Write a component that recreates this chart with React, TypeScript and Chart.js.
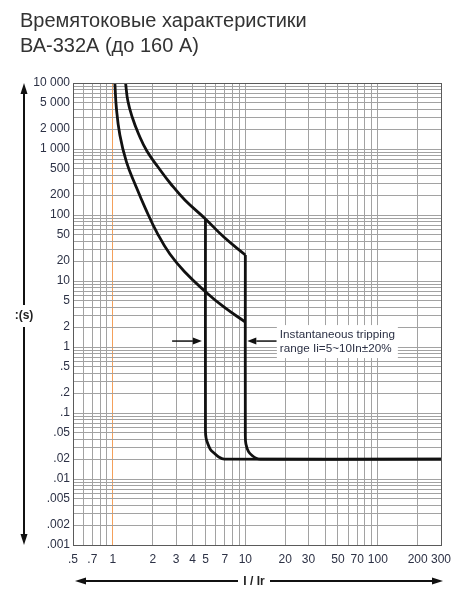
import React, { useEffect, useRef } from "react";
import { Chart, registerables } from "chart.js";

Chart.register(...registerables);

// ---------- data ----------
const xGridValues = [0.5, 0.6, 0.7, 0.8, 0.9, 1, 2, 3, 4, 5, 6, 7, 8, 9, 10, 20, 30, 40, 50, 60, 70, 80, 90, 100, 200, 300];
const xTickValues = [0.5, 0.7, 1, 2, 3, 4, 5, 7, 10, 20, 30, 50, 70, 100, 200, 300];
const xTickLabels = [".5", ".7", "1", "2", "3", "4", "5", "7", "10", "20", "30", "50", "70", "100", "200", "300"];

const yGridValues = [
  0.001, 0.002, 0.003, 0.004, 0.005, 0.006, 0.007, 0.008, 0.009,
  0.01, 0.02, 0.03, 0.04, 0.05, 0.06, 0.07, 0.08, 0.09,
  0.1, 0.2, 0.3, 0.4, 0.5, 0.6, 0.7, 0.8, 0.9,
  1, 2, 3, 4, 5, 6, 7, 8, 9,
  10, 20, 30, 40, 50, 60, 70, 80, 90,
  100, 200, 300, 400, 500, 600, 700, 800, 900,
  1000, 2000, 3000, 4000, 5000, 6000, 7000, 8000, 9000,
  10000,
];
const yTickValues = [10000, 5000, 2000, 1000, 500, 200, 100, 50, 20, 10, 5, 2, 1, 0.5, 0.2, 0.1, 0.05, 0.02, 0.01, 0.005, 0.002, 0.001];
const yTickLabels = ["10 000", "5 000", "2 000", "1 000", "500", "200", "100", "50", "20", "10", "5", "2", "1", ".5", ".2", ".1", ".05", ".02", ".01", ".005", ".002", ".001"];

// lower (fast) thermal curve
const lowerCurveX = [1.035, 1.063, 1.129, 1.264, 1.479, 1.759, 2.167, 2.693, 3.495, 5, 6.88, 10];
const lowerCurveY = [10000, 4181, 1630, 643, 285, 126, 52.8, 25.6, 13.7, 6.89, 4.04, 2.39];

// upper (slow) thermal curve
const upperCurveX = [1.247, 1.298, 1.403, 1.563, 1.806, 2.205, 2.74, 3.495, 5, 6.88, 10];
const upperCurveY = [10000, 5337, 3000, 1687, 933, 525, 295, 169, 87, 46.4, 24.8];

// instantaneous trip at 5 x Ir
const inst5X = [5, 5, 5.05, 5.2, 5.45, 5.83, 6.3, 6.94, 300];
const inst5Y = [87, 0.055, 0.042, 0.0346, 0.028, 0.0245, 0.0215, 0.02, 0.02];

// instantaneous trip at 10 x Ir
const inst10X = [10, 10, 10.1, 10.57, 11.3, 12.2, 13, 300];
const inst10Y = [24.8, 0.045, 0.034, 0.026, 0.0225, 0.0205, 0.02, 0.02];

// annotation
const noteLines = ["Instantaneous tripping", "range Ii=5~10In±20%"];
const arrowLeftX = [2.8, 4.7];
const arrowRightX = [17.2, 10.35];
const arrowY = 1.23;
const noteX = 17.3;

const FONT = '"Liberation Sans", Arial, Helvetica, sans-serif';
const GRID = "#a2a2a2";
const ORANGE = "#f4a05a";
const LABEL = "#2c3145";

function pts(xs: number[], ys: number[]) {
  return xs.map((x, i) => ({ x, y: ys[i] }));
}

function labelFor(values: number[], labels: string[], v: number) {
  const i = values.findIndex((t) => Math.abs(Math.log10(t) - Math.log10(v)) < 1e-6);
  return i >= 0 ? labels[i] : "";
}

function drawArrow(ctx: CanvasRenderingContext2D, x1: number, y1: number, x2: number, y2: number, len: number, half: number, lw: number) {
  const ang = Math.atan2(y2 - y1, x2 - x1);
  const bx = x2 - Math.cos(ang) * len;
  const by = y2 - Math.sin(ang) * len;
  ctx.beginPath();
  ctx.lineWidth = lw;
  ctx.moveTo(x1, y1);
  ctx.lineTo(bx, by);
  ctx.stroke();
  ctx.beginPath();
  ctx.moveTo(x2, y2);
  ctx.lineTo(bx + Math.sin(ang) * half, by - Math.cos(ang) * half);
  ctx.lineTo(bx - Math.sin(ang) * half, by + Math.cos(ang) * half);
  ctx.closePath();
  ctx.fill();
}

const decorPlugin = {
  id: "decor",
  afterDraw(chart: any) {
    const ctx: CanvasRenderingContext2D = chart.ctx;
    const a = chart.chartArea;
    const xs = chart.scales.x;
    const ys = chart.scales.y;
    ctx.save();
    // plot border
    ctx.strokeStyle = "#5a5a5a";
    ctx.lineWidth = 1;
    ctx.strokeRect(Math.round(a.left) + 0.5, Math.round(a.top) + 0.5, Math.round(a.right - a.left), Math.round(a.bottom - a.top));

    // annotation box and text
    const nx = xs.getPixelForValue(noteX);
    const ay = ys.getPixelForValue(arrowY);
    ctx.fillStyle = "#ffffff";
    ctx.fillRect(nx, ay - 16, 121, 33);
    ctx.fillStyle = LABEL;
    ctx.font = `11.7px ${FONT}`;
    ctx.textBaseline = "alphabetic";
    ctx.textAlign = "left";
    ctx.fillText(noteLines[0], nx + 3, ay - 3);
    ctx.fillText(noteLines[1], nx + 3, ay + 11);

    // annotation arrows
    ctx.strokeStyle = "#111";
    ctx.fillStyle = "#111";
    drawArrow(ctx, xs.getPixelForValue(arrowLeftX[0]), ay, xs.getPixelForValue(arrowLeftX[1]), ay, 9, 3.5, 1.5);
    drawArrow(ctx, xs.getPixelForValue(arrowRightX[0]), ay, xs.getPixelForValue(arrowRightX[1]), ay, 9, 3.5, 1.5);

    // y axis arrow and title
    const ax = 24;
    const midY = 316;
    drawArrow(ctx, ax, midY - 11, ax, a.top, 11, 3.5, 2);
    drawArrow(ctx, ax, midY + 11, ax, a.bottom, 11, 3.5, 2);
    ctx.fillStyle = "#222";
    ctx.font = `bold 12px ${FONT}`;
    ctx.textAlign = "center";
    ctx.textBaseline = "middle";
    ctx.fillText(":(s)", ax, midY);

    // x axis arrow and title
    const yArr = 581;
    const midX = 254;
    ctx.fillStyle = "#111";
    drawArrow(ctx, midX - 16, yArr, a.left + 2, yArr, 11, 3.5, 2);
    drawArrow(ctx, midX + 16, yArr, a.right + 2, yArr, 11, 3.5, 2);
    ctx.fillStyle = "#222";
    ctx.fillText("I / Ir", midX, yArr + 1);
    ctx.restore();
  },
};

const lineStyle = {
  borderColor: "#111",
  borderWidth: 2.8,
  pointRadius: 0,
  fill: false,
  showLine: true,
};

export default function App() {
  const ref = useRef<HTMLCanvasElement | null>(null);

  useEffect(() => {
    if (!ref.current) return;
    const chart = new Chart(ref.current, {
      type: "line",
      data: {
        datasets: [
          { ...lineStyle, data: pts(lowerCurveX, lowerCurveY), tension: 0.45 },
          { ...lineStyle, data: pts(upperCurveX, upperCurveY), tension: 0.45 },
          { ...lineStyle, data: pts(inst5X, inst5Y), tension: 0.3 },
          { ...lineStyle, data: pts(inst10X, inst10Y), tension: 0.3 },
        ],
      },
      options: {
        animation: false,
        responsive: false,
        devicePixelRatio: 1,
        layout: { padding: { top: 83, right: 29, bottom: 0, left: 0 } },
        plugins: { legend: { display: false }, tooltip: { enabled: false }, title: { display: false } },
        scales: {
          x: {
            type: "logarithmic",
            min: 0.5,
            max: 300,
            position: "bottom",
            afterBuildTicks: (s: any) => {
              s.ticks = xGridValues.map((v) => ({ value: v }));
            },
            afterFit: (s: any) => {
              s.height = 55;
            },
            grid: {
              color: (c: any) => (c.tick && Math.abs(c.tick.value - 1) < 1e-9 ? ORANGE : GRID),
              lineWidth: 1,
              drawTicks: false,
            },
            border: { display: true, color: "#5a5a5a" },
            ticks: {
              autoSkip: false,
              maxRotation: 0,
              minRotation: 0,
              padding: 7,
              color: LABEL,
              font: { family: FONT, size: 12 },
              callback: (v: any) => labelFor(xTickValues, xTickLabels, Number(v)),
            },
          },
          y: {
            type: "logarithmic",
            min: 0.001,
            max: 10000,
            position: "left",
            afterBuildTicks: (s: any) => {
              s.ticks = yGridValues.map((v) => ({ value: v }));
            },
            afterFit: (s: any) => {
              s.width = 73;
            },
            grid: { color: GRID, lineWidth: 1, drawTicks: false },
            border: { display: true, color: "#5a5a5a" },
            ticks: {
              autoSkip: false,
              padding: 3,
              color: LABEL,
              font: { family: FONT, size: 12 },
              callback: (v: any) => labelFor(yTickValues, yTickLabels, Number(v)),
            },
          },
        },
      },
      plugins: [decorPlugin],
    } as any);
    return () => chart.destroy();
  }, []);

  return (
    <div style={{ position: "absolute", left: 0, top: 0, width: 470, height: 600, background: "#fff" }}>
      <div
        style={{
          position: "absolute",
          left: 20,
          top: 8,
          font: `20px ${FONT}`,
          lineHeight: "25px",
          color: "#333",
          whiteSpace: "nowrap",
        }}
      >
        Времятоковые характеристики
        <br />
        ВА-332А (до 160 А)
      </div>
      <canvas ref={ref} width={470} height={600} style={{ display: "block", width: 470, height: 600 }} />
    </div>
  );
}
